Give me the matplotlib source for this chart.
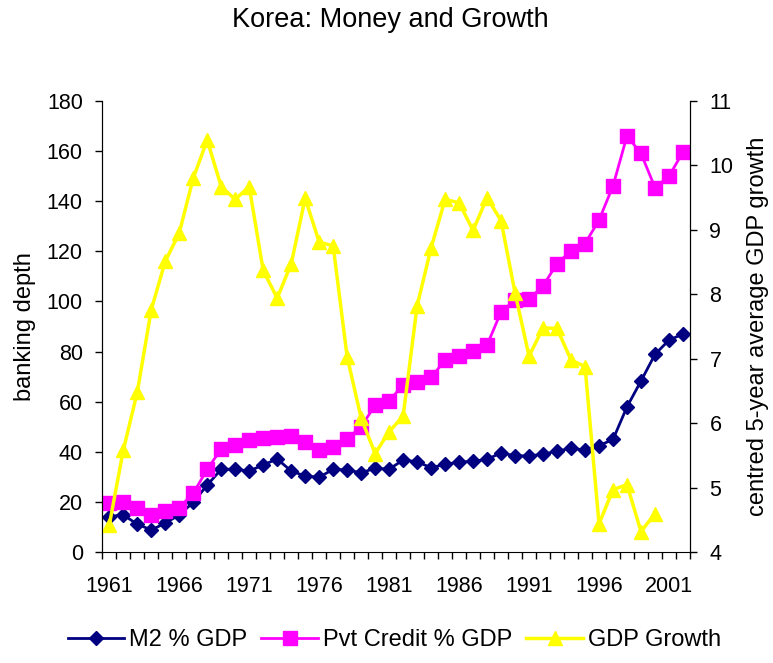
import numpy as np
import matplotlib
matplotlib.use("Agg")
import matplotlib.pyplot as plt

plt.rcParams['font.family'] = ['Liberation Sans', 'DejaVu Sans']

# data
years = list(range(1961, 2003))
m2 = [14.2, 14.9, 11.2, 8.9, 11.6, 14.9, 19.9, 26.8, 33.1, 33.1, 32.4, 34.8, 37.2, 32.4,
      30.4, 29.9, 33.1, 32.8, 31.7, 33.5, 33.1, 36.8, 36.1, 33.7, 35.1, 35.9, 36.3,
      37.0, 39.7, 38.4, 38.5, 39.0, 40.4, 41.4, 40.8, 42.5, 45.0, 58.0, 68.3, 78.9, 84.6, 87.0]
credit = [19.5, 20.2, 17.5, 14.9, 16.6, 17.8, 23.5, 33.1, 41.2, 42.8, 44.8, 45.4, 45.8, 46.2,
          43.8, 40.6, 41.8, 45.3, 50.0, 58.7, 60.4, 66.7, 67.8, 69.7, 76.6, 78.2, 80.4,
          82.6, 95.9, 100.5, 100.8, 106.2, 115.1, 120.2, 123.1, 132.4, 146.1, 166.0, 159.0,
          145.4, 149.9, 159.6]
growth = [4.42, 5.58, 6.48, 7.76, 8.51, 8.95, 9.80, 10.39, 9.67, 9.47, 9.67, 8.37, 7.94, 8.47,
          9.49, 8.81, 8.75, 7.03, 6.08, 5.53, 5.87, 6.11, 7.82, 8.72, 9.47, 9.42, 8.99,
          9.50, 9.14, 8.02, 7.04, 7.48, 7.47, 6.98, 6.88, 4.44, 4.97, 5.05, 4.32, 4.60,
          np.nan, np.nan]
year_labels = [1961, 1966, 1971, 1976, 1981, 1986, 1991, 1996, 2001]

fig = plt.figure(figsize=(7.73, 6.63), dpi=100)
ax = fig.add_axes([0.1323, 0.167, 0.7603, 0.681])
ax2 = ax.twinx()

l1, = ax.plot(years, m2, color='#000080', lw=2, marker='D', ms=7,
              label='M2 % GDP')
l2, = ax.plot(years, credit, color='#FF00FF', lw=2, marker='s', ms=10,
              label='Pvt Credit % GDP')
l3, = ax2.plot(years, growth, color='#FFFF00', lw=2.5, marker='^', ms=10,
               label='GDP Growth')

ax.set_xlim(1960.5, 2002.5)
ax.set_ylim(0, 180)
ax2.set_ylim(4, 11)
ax.set_yticks(range(0, 181, 20))
ax2.set_yticks(range(4, 12))

# tick marks between categories, labels on category centres
ax.set_xticks(np.arange(1960.5, 2003, 1.0))
ax.set_xticklabels([])
ax.set_xticks(year_labels, minor=True)
ax.set_xticklabels([str(y) for y in year_labels], minor=True)
ax.tick_params(axis='x', which='major', direction='out', length=5, width=1)
ax.tick_params(axis='x', which='minor', length=0, pad=17, labelsize=15.5)
ax.tick_params(axis='y', direction='out', length=5, width=1, pad=9, labelsize=15.5)
ax2.tick_params(axis='y', direction='out', length=5, width=1, pad=9, labelsize=15.5)

for a in (ax, ax2):
    a.spines['top'].set_visible(False)
ax2.spines['bottom'].set_visible(False)

ax.set_ylabel('banking depth', fontsize=17, labelpad=8)
ax2.set_ylabel('centred 5-year average GDP growth', fontsize=17, labelpad=10)

fig.text(0.5045, 1 - 20 / 663, 'Korea: Money and Growth', fontsize=19.5,
         ha='center', va='center')

fig.legend(handles=[l1, l2, l3], loc='center', bbox_to_anchor=(0.51, 0.035),
           ncol=3, frameon=False, fontsize=17, handlelength=2.4,
           handletextpad=0.2, columnspacing=0.6)

fig.savefig('out.png', dpi=100)
